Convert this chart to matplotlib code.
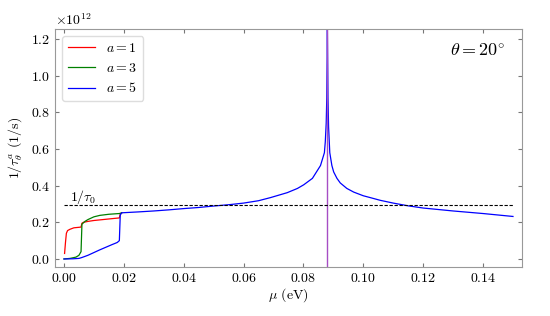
import numpy as np
import matplotlib
matplotlib.use("Agg")
import matplotlib.pyplot as plt

plt.rcParams['font.family'] = 'serif'
plt.rcParams['font.serif'] = ['cmr10']
plt.rcParams['mathtext.fontset'] = 'cm'
plt.rcParams['axes.formatter.use_mathtext'] = True
plt.rcParams['axes.unicode_minus'] = False

# Parte comun (mu >= 0.0193 eV), en unidades de 1e12 1/s
mu_tail = [0.0193, 0.025, 0.03, 0.035, 0.04, 0.045, 0.05, 0.055, 0.06, 0.065,
           0.069, 0.0746, 0.078, 0.0801, 0.083, 0.0857, 0.087, 0.0873, 0.0876,
           0.0878, 0.0880, 0.0882, 0.0884, 0.0888, 0.0895, 0.0901, 0.0912,
           0.0923, 0.0945, 0.0968, 0.1, 0.1023, 0.1057, 0.11, 0.115, 0.12,
           0.125, 0.13, 0.135, 0.14, 0.145, 0.15]
rate_tail = [0.252, 0.257, 0.262, 0.268, 0.275, 0.281, 0.289, 0.296, 0.305, 0.318,
             0.335, 0.362, 0.385, 0.405, 0.44, 0.51, 0.58, 0.64, 0.74,
             0.88, 1.25, 0.88, 0.72, 0.58, 0.51, 0.475, 0.44,
             0.415, 0.385, 0.365, 0.345, 0.335, 0.32, 0.305, 0.29, 0.278,
             0.27, 0.262, 0.255, 0.248, 0.24, 0.232]

# Parte de bajo potencial quimico para cada a
mu_a1 = [0.0002, 0.0005, 0.0008, 0.0012, 0.002, 0.0033, 0.0045, 0.0057, 0.006,
         0.0065, 0.008, 0.01, 0.013, 0.016, 0.0185, 0.0188]
rate_a1 = [0.03, 0.09, 0.14, 0.155, 0.162, 0.17, 0.172, 0.174, 0.195,
           0.2, 0.205, 0.21, 0.215, 0.22, 0.224, 0.245]

mu_a3 = [0.0, 0.002, 0.004, 0.005, 0.0057, 0.006, 0.007, 0.008, 0.01, 0.012,
         0.015, 0.0185]
rate_a3 = [0.0, 0.003, 0.01, 0.02, 0.04, 0.19, 0.205, 0.215, 0.23, 0.238,
           0.244, 0.248]

mu_a5 = [0.0, 0.003, 0.005, 0.006, 0.008, 0.01, 0.012, 0.014, 0.016, 0.0178,
         0.0185, 0.0188]
rate_a5 = [0.0, 0.001, 0.003, 0.008, 0.02, 0.035, 0.05, 0.064, 0.078, 0.09,
           0.1, 0.24]

mu_c = 0.088     # posicion de la singularidad
tau0_inv = 0.295  # 1/tau_0

fig = plt.figure(figsize=(5.5, 3.16), dpi=100)
ax = fig.add_axes([0.1, 0.155, 0.849, 0.753])

# las tres curvas coinciden para mu > 0.0193; la cola comun se dibuja con a=5
# (encima), las otras solo hasta el primer punto de la cola
series = [(mu_a1, rate_a1, 'r', r'$a = 1$', 1),
          (mu_a3, rate_a3, 'g', r'$a = 3$', 1),
          (mu_a5, rate_a5, 'b', r'$a = 5$', len(mu_tail))]
for mu, rate, col, lab, n in series:
    x = np.concatenate([mu, mu_tail[:n]])
    y = np.concatenate([rate, rate_tail[:n]]) * 1e12
    ax.plot(x, y, color=col, lw=0.9, label=lab)

ax.axvline(mu_c, color='#a64dc4', lw=1.0)
ax.plot([0, 0.15], [tau0_inv * 1e12, tau0_inv * 1e12], 'k--', lw=0.8,
        dashes=(3, 1.5))
ax.text(0.002, 0.315e12, r'$1/\tau_0$', fontsize=10)
ax.text(0.965, 0.91, r'$\theta = 20^{\circ}$', transform=ax.transAxes,
        fontsize=13, ha='right', va='center')

ax.set_xlim(-0.003, 0.153)
ax.set_ylim(-0.044e12, 1.255e12)
ax.set_xticks(np.arange(0, 0.141, 0.02))
ax.set_yticks(np.arange(0, 1.21, 0.2) * 1e12)
ax.set_xlabel(r'$\mu$ (eV)', fontsize=10, labelpad=1)
ax.set_ylabel(r'$1/\tau_\theta^a$ (1/s)', fontsize=10, labelpad=4)

for s in ax.spines.values():
    s.set_color('#999999')
ax.tick_params(direction='in', top=True, right=True, labelsize=10,
               color='#777777', length=3, width=0.8)
ax.yaxis.get_offset_text().set_fontsize(10)

ax.legend(loc='upper left', fontsize=10, framealpha=1, edgecolor='#dddddd')

fig.savefig('out.png', dpi=100)
